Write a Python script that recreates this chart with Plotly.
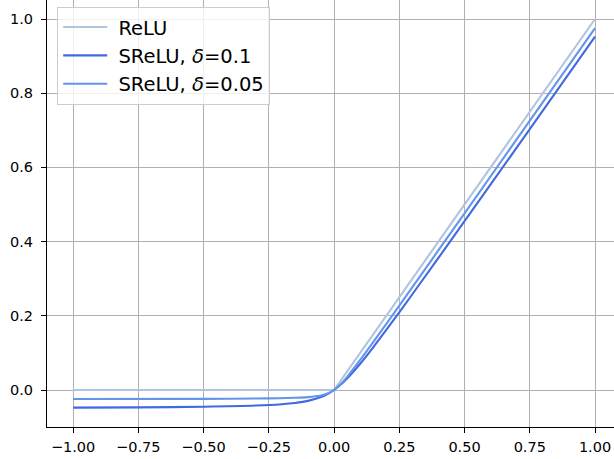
import plotly.graph_objects as go

# ---- data ----
relu_x = [-1.0, 0.0, 1.0]
relu_y = [0.0, 0.0, 1.0]

srelu01_x = [-1.0, -0.75, -0.5, -0.3, -0.2, -0.15, -0.1, -0.05, -0.025, 0.0,
             0.025, 0.05, 0.1, 0.15, 0.2, 0.3, 0.5, 0.75, 1.0]
srelu01_y = [-0.0475, -0.0467, -0.0450, -0.0419, -0.0382, -0.0349, -0.0293, -0.0191, -0.0110, 0.0,
             0.0140, 0.0309, 0.0707, 0.1151, 0.1618, 0.2581, 0.4550, 0.7033, 0.9525]

srelu005_x = [-1.0, -0.5, -0.25, -0.15, -0.1, -0.05, -0.025, 0.0,
              0.025, 0.05, 0.1, 0.15, 0.25, 0.5, 1.0]
srelu005_y = [-0.0244, -0.0238, -0.0225, -0.0209, -0.0191, -0.0146, -0.0095, 0.0,
              0.0155, 0.0354, 0.0809, 0.1291, 0.2275, 0.4762, 0.9756]

x_ticks = [-1.0, -0.75, -0.5, -0.25, 0.0, 0.25, 0.5, 0.75, 1.0]
x_labels = ["\u22121.00", "\u22120.75", "\u22120.50", "\u22120.25", "0.00", "0.25", "0.50", "0.75", "1.00"]
y_ticks = [0.0, 0.2, 0.4, 0.6, 0.8, 1.0]
y_labels = ["0.0", "0.2", "0.4", "0.6", "0.8", "1.0"]

names = ["ReLU", "SReLU, <i>δ</i>=0.1", "SReLU, <i>δ</i>=0.05"]
colors = ["#b0c4de", "#4169e1", "#6495ed"]

fig = go.Figure()
series = [(relu_x, relu_y), (srelu01_x, srelu01_y), (srelu005_x, srelu005_y)]
for i, ((xs, ys), nm, c) in enumerate(zip(series, names, colors)):
    fig.add_trace(go.Scatter(
        x=xs, y=ys, mode="lines", name="\u00a0" + nm,
        line=dict(color=c, width=2.1, shape="linear" if i == 0 else "spline", smoothing=0.8),
    ))

axis_common = dict(
    showline=True, linecolor="black", linewidth=1.1, mirror=False,
    ticks="outside", ticklen=5, tickwidth=1.1, tickcolor="black",
    showgrid=True, gridcolor="#b0b0b0", gridwidth=1.1, zeroline=False,
    tickfont=dict(family="DejaVu Sans", size=14.5, color="black"),
)

fig.update_layout(
    width=614, height=459,
    margin=dict(l=47, r=0, t=0, b=32),
    plot_bgcolor="white", paper_bgcolor="white",
    xaxis=dict(range=[-1.1, 1.0727], tickvals=x_ticks, ticktext=x_labels,
               ticklabelstandoff=2, **axis_common),
    yaxis=dict(range=[-0.0997, 1.0512], tickvals=y_ticks, ticktext=y_labels,
               ticklabelstandoff=5, **axis_common),
    legend=dict(
        x=0.018, y=0.984, xanchor="left", yanchor="top",
        bgcolor="rgba(255,255,255,0.8)", bordercolor="#cccccc", borderwidth=1,
        font=dict(family="DejaVu Sans", size=19.5, color="black"),
        itemwidth=44,
    ),
    showlegend=True,
)

fig.write_html("out.html", config={"displayModeBar": False},
               post_script="document.body.style.margin='0';document.body.style.padding='0';")
